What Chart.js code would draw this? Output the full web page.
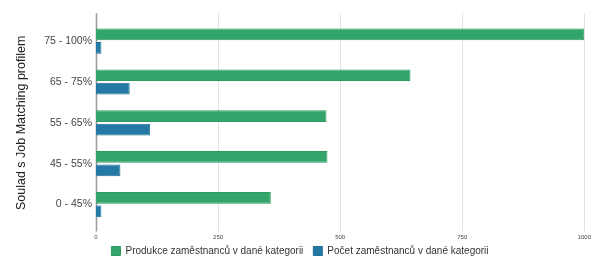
<!DOCTYPE html>
<html>
<head>
<meta charset="utf-8">
<script src="https://cdn.jsdelivr.net/npm/chart.js@4"></script>
<style>
html,body{margin:0;padding:0;background:#fff;}
#wrap{width:600px;height:275px;}
</style>
</head>
<body>
<div id="wrap"><canvas id="chart"></canvas></div>
<script>
// data
const categories=["75 - 100%","65 - 75%","55 - 65%","45 - 55%","0 - 45%"];
const produkce=[1000,644,472,474,358];
const pocet=[11,69,111,50,11];
const xTicks=[0,250,500,750,1000];
const seriesNames=["Produkce zaměstnanců v dané kategorii","Počet zaměstnanců v dané kategorii"];

const FONT="'Liberation Sans', Arial, sans-serif";

// gridlines + axis line reach a bit past the bars, like in the original
const extendedGrid={
id:"extendedGrid",
beforeDatasetsDraw(chart){
let ctx=chart.ctx,a=chart.chartArea,x=chart.scales.x;
let top=a.top-7.5,bot=a.bottom+6.5;
ctx.save();
xTicks.forEach(v=>{
let px=Math.round(x.getPixelForValue(v))+0.5;
ctx.beginPath();
ctx.strokeStyle=v===0?"#9e9e9e":"#e2e2e2";
ctx.lineWidth=v===0?1.6:1;
ctx.moveTo(px,top);ctx.lineTo(px,bot);ctx.stroke();
});
ctx.restore();
}
};
// legend centred on the whole canvas and sitting a bit higher
const legendShift={
id:"legendShift",
afterLayout(chart){
let l=chart.legend;
l.left+=7;l.right+=7;l.top-=5.5;l.bottom-=5.5;
}
};

new Chart(document.getElementById("chart"),{
type:"bar",
data:{labels:categories,datasets:[
{label:seriesNames[0],data:produkce,backgroundColor:"#33a56a",borderColor:"#2e9a61",borderWidth:1,categoryPercentage:0.66,barPercentage:0.87},
{label:seriesNames[1],data:pocet,backgroundColor:"#247aa4",borderColor:"#1f6f97",borderWidth:1,categoryPercentage:0.66,barPercentage:0.87}
]},
plugins:[extendedGrid,legendShift],
options:{
indexAxis:"y",
responsive:true,maintainAspectRatio:false,animation:false,
layout:{padding:{top:20.7,right:14,left:0,bottom:3.5}},
plugins:{
legend:{position:"bottom",labels:{boxWidth:9,boxHeight:9,padding:10,color:"#333",font:{family:FONT,size:10}}},
tooltip:{enabled:false}
},
scales:{
x:{min:0,max:1000,
afterBuildTicks:s=>{s.ticks=xTicks.map(v=>({value:v}));},
afterFit:s=>{s.height=16.5;},
grid:{display:false,drawTicks:false},border:{display:false},
ticks:{color:"#444",font:{family:FONT,size:6},padding:9,callback:v=>String(v)}},
y:{grid:{display:false,drawTicks:false},border:{display:false},
afterFit:s=>{s.width=96;},
ticks:{color:"#444",font:{family:FONT,size:10.5},padding:4},
title:{display:true,text:"Soulad s Job Matching profilem",color:"#222",font:{family:FONT,size:12.5},padding:{top:14,bottom:0}}}
}
}
});
</script>
</body>
</html>
